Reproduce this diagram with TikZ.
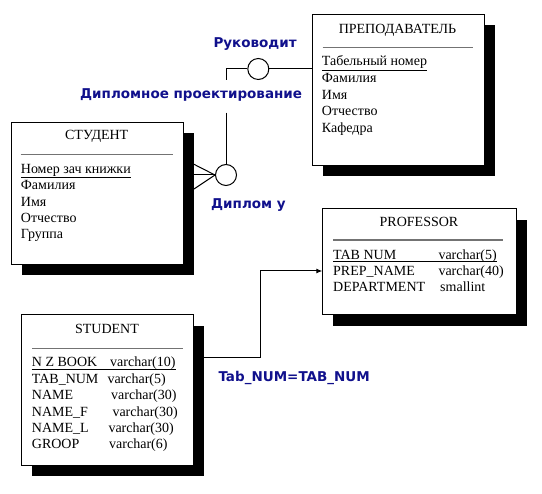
\documentclass[tikz,border=0pt]{standalone}
\usepackage{fontspec}
\setmainfont{Liberation Serif}
\newfontfamily\lblfont{DejaVu Sans}
\usepackage{tikz}
\usetikzlibrary{shadows,arrows.meta}
\definecolor{lblblue}{RGB}{16,16,140}

\begin{document}
\begin{tikzpicture}[x=1pt,y=-1pt,
  ent/.style={draw,line width=1pt,fill=white,inner sep=0pt,
    drop shadow={shadow xshift=10.7pt,shadow yshift=-10.7pt,fill=black,opacity=1}},
  txt/.style={anchor=base west,inner sep=0pt,font=\fontsize{14}{16}\selectfont},
  ttl/.style={anchor=base,inner sep=0pt,font=\fontsize{14}{16}\selectfont},
  rel/.style={draw,circle,line width=1pt,minimum size=21pt,inner sep=0pt},
  lbl/.style={anchor=base west,inner sep=0pt,text=lblblue,
    font=\lblfont\bfseries\fontsize{13.5}{16}\selectfont},
  sep/.style={line width=1.3pt,black!55},
  lnk/.style={line width=1pt}]
\useasboundingbox (0,0) rectangle (542,494);

% ПРЕПОДАВАТЕЛЬ
\node[ent,minimum width=171.6pt,minimum height=150.7pt] (prep) at (398.5,89.7) {};
\node[ttl] (pt) at (397.5,33.3) {ПРЕПОДАВАТЕЛЬ};
\draw[sep] (322.7,47.7) -- (473,47.7);
\node[txt] (p1) at (321.7,66) {\underline{Табельный номер}};
\node[txt] (p2) at (321.7,82.7) {Фамилия};
\node[txt] (p3) at (321.7,99.3) {Имя};
\node[txt] (p4) at (321.7,116) {Отчество};
\node[txt] (p5) at (321.7,132.7) {Кафедра};

% СТУДЕНТ
\node[ent,minimum width=171.6pt,minimum height=141.7pt] (stud) at (97.5,193.2) {};
\node[ttl] (st) at (96.7,140) {СТУДЕНТ};
\draw[sep] (20.7,154.3) -- (172.7,154.3);
\node[txt] (s1) at (20.7,173.3) {\underline{Номер зач книжки}};
\node[txt] (s2) at (20.7,190) {Фамилия};
\node[txt] (s3) at (20.7,206.7) {Имя};
\node[txt] (s4) at (20.7,222.5) {Отчество};
\node[txt] (s5) at (20.7,238.5) {Группа};

% PROFESSOR
\node[ent,minimum width=194.4pt,minimum height=106pt] (prof) at (419.5,262) {};
\node[ttl] (ft) at (419,226.7) {PROFESSOR};
\draw[sep] (333,240) -- (502.7,240);
\node[txt] (f1) at (333,259.3) {TAB NUM};
\node[txt] (f1t) at (438.3,259.3) {varchar(5)};
\draw[lnk] ([yshift=-2.4pt]f1.base west) -- ([yshift=-2.4pt]f1t.base east);
\node[txt] (f2) at (333,276) {PREP\_NAME};
\node[txt] (f2t) at (438.3,276) {varchar(40)};
\node[txt] (f3) at (333,291.7) {DEPARTMENT};
\node[txt] (f3t) at (440,291.7) {smallint};

% STUDENT
\node[ent,minimum width=171.6pt,minimum height=150.7pt] (stu) at (107.5,390.3) {};
\node[ttl] (ut) at (107,333.3) {STUDENT};
\draw[sep] (32.3,348.3) -- (183.3,348.3);
\node[txt] (u1) at (31.7,366.7) {N Z BOOK};
\node[txt] (u1t) at (110,366.7) {varchar(10)};
\draw[lnk] ([yshift=-2.4pt]u1.base west) -- ([yshift=-2.4pt]u1t.base east);
\node[txt] (u2) at (31.7,383.3) {TAB\_NUM};
\node[txt] (u2t) at (107.3,383.3) {varchar(5)};
\node[txt] (u3) at (31.7,400) {NAME};
\node[txt] (u3t) at (111,400) {varchar(30)};
\node[txt] (u4) at (31.7,416.7) {NAME\_F};
\node[txt] (u4t) at (112.3,416.7) {varchar(30)};
\node[txt] (u5) at (31.7,432.3) {NAME\_L};
\node[txt] (u5t) at (108.3,432.3) {varchar(30)};
\node[txt] (u6) at (31.7,448.3) {GROOP};
\node[txt] (u6t) at (109,448.3) {varchar(6)};

% relationships
\node[rel] (ruk) at (258.3,69) {};
\node[rel] (dip) at (226,175) {};
\node[lbl] (lr) at (213.3,47.7) {Руководит};
\node[lbl] (ld) at (80,99) {Дипломное проектирование};
\node[lbl] (lu) at (211,209) {Диплом у};
\node[lbl] (lt) at (218.3,381.7) {Tab\_NUM=TAB\_NUM};

\coordinate (k1) at (226,80);
\coordinate (k2) at (226,112.7);
\coordinate (c1) at (194,164.3);
\coordinate (c2) at (194,175);
\coordinate (c3) at (194,189);
\coordinate (fk) at (204,358);
\coordinate (bend) at (260,0);
\coordinate (pk) at (322.3,271);

\draw[lnk] (ruk) -- (ruk -| prep.west);
\draw[lnk] (ruk) -| (k1);
\draw[lnk] (k2) -- (dip);
\draw[lnk] (c1) -- (dip.west) -- (c3);
\draw[lnk] (c2) -- (dip.west);
\draw[lnk,-{Latex[length=6pt,width=5pt]}] (fk) -| (bend |- pk) -- (pk);
\end{tikzpicture}
\end{document}
